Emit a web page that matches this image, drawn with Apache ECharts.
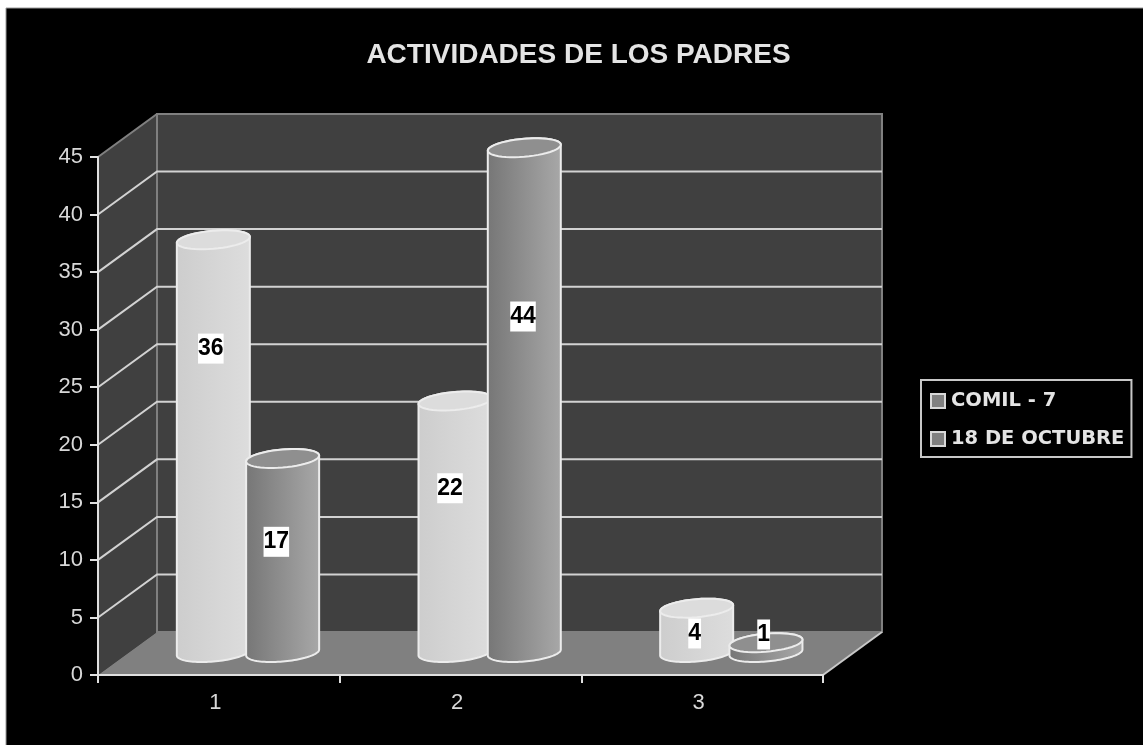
<!DOCTYPE html>
<html><head><meta charset="utf-8">
<style>html,body{margin:0;padding:0;background:#fff}#c{width:1143px;height:745px;filter:blur(0.45px)}</style>
<script src="https://cdn.jsdelivr.net/npm/echarts@6/dist/echarts.min.js"></script>
</head><body><div id="c"></div>
<script>
const chartTitle = 'ACTIVIDADES DE LOS PADRES';
const categories = ['1', '2', '3'];
const seriesNames = ['COMIL - 7', '18 DE OCTUBRE'];
const comil7 = [36, 22, 4];
const octubre18 = [17, 44, 1];
const yTicks = [0, 5, 10, 15, 20, 25, 30, 35, 40, 45];

// layout of the fake-3D box, in pixels
const DX = 59, DY = -43;          // depth vector of the box
const RX = 36.5, RY = 9, TILT = 3;
const barShift = [-35, 34.3];
const labelLift = [[109.5, 88, 26], [84, 169.5, -7.5]];
const labelShift = [[-37.5, -40, -37], [28, 33, 32]];

function ellipsePts(cx, cy, from, to) {
  const pts = [];
  for (let i = 0; i <= 48; i++) {
    const t = from + (to - from) * i / 48;
    pts.push([cx + RX * Math.cos(t), cy + RY * Math.sin(t) - TILT * Math.cos(t)]);
  }
  return pts;
}

function renderBox(params, api) {
  const p0 = api.coord([0, 0]);
  const band = api.size([1, 0])[0];
  const x0 = p0[0] - band / 2, x1 = x0 + band * categories.length, y0 = p0[1];
  const yTop = api.coord([0, 45])[1];
  const wall = '#404040', edge = '#808080', line = { stroke: '#d2d2d2', lineWidth: 2 };
  const children = [
    { type: 'polygon', shape: { points: [[x0, y0], [x0 + DX, y0 + DY], [x0 + DX, yTop + DY], [x0, yTop]] }, style: { fill: wall } },
    { type: 'rect', shape: { x: x0 + DX, y: yTop + DY, width: x1 - x0, height: y0 - yTop }, style: { fill: wall, stroke: edge, lineWidth: 2 } },
    { type: 'polygon', shape: { points: [[x0, y0], [x0 + DX, y0 + DY], [x1 + DX, y0 + DY], [x1, y0]] }, style: { fill: '#808080' } },
    { type: 'polyline', shape: { points: [[x1, y0], [x1 + DX, y0 + DY]] }, style: { fill: 'none', stroke: '#c8c8c8', lineWidth: 2 } }
  ];
  yTicks.forEach(v => {
    if (v === 0) return;
    const y = api.coord([0, v])[1];
    const isTop = v === 45;
    const st = isTop ? { stroke: edge, lineWidth: 2, fill: 'none' } : Object.assign({ fill: 'none' }, line);
    children.push({ type: 'polyline', shape: { points: [[x0, y], [x0 + DX, y + DY], [x1 + DX, y + DY]] }, style: st });
  });
  return { type: 'group', children };
}

function renderBar(si, light) {
  return function (params, api) {
    const ci = api.value(0), v = api.value(1);
    const front = api.coord([ci, 0]);
    const cx = front[0] + DX / 2 + barShift[si];
    const baseY = front[1] + DY / 2 - 1;
    const topY = api.coord([ci, v])[1] + DY / 2 + 0.7;
    const body = ellipsePts(cx, baseY, 0, Math.PI).concat(ellipsePts(cx, topY, Math.PI, 2 * Math.PI));
    const grad = light
      ? [{ offset: 0, color: '#cdcdcd' }, { offset: 1, color: '#dddddd' }]
      : [{ offset: 0, color: '#767676' }, { offset: 1, color: '#a8a8a8' }];
    const stroke = '#ececec';
    const children = [
      { type: 'polygon', shape: { points: body },
        style: { fill: new echarts.graphic.LinearGradient(0, 0, 1, 0, grad), stroke, lineWidth: 2 } },
      { type: 'polygon', shape: { points: ellipsePts(cx, topY, 0, 2 * Math.PI) },
        style: { fill: light ? '#dcdcdc' : '#8f8f8f', stroke, lineWidth: 2 } }
    ];
    return { type: 'group', children };
  };
}

function renderLabel(si) {
  return function (params, api) {
    const ci = api.value(0), v = api.value(1);
    const front = api.coord([ci, 0]);
    const cx = front[0] + DX / 2 + labelShift[si][ci];
    const topY = api.coord([ci, v])[1] + DY / 2;
    return {
      type: 'text', z2: 100,
      style: {
        text: String(v), x: cx, y: topY + labelLift[si][ci],
        align: 'center', verticalAlign: 'middle',
        font: 'bold 23px "Liberation Sans", Arial, sans-serif', fill: '#000',
        backgroundColor: '#fff', padding: [4, 0, 3, 0]
      }
    };
  };
}

function pairs(arr) { return arr.map((v, i) => [i, v]); }

const option = {
  animation: false,
  backgroundColor: '#fff',
  graphic: [{
    type: 'rect', z: -10, silent: true,
    shape: { x: 6, y: 8, width: 1200, height: 800 },
    style: { fill: '#000', stroke: '#9a9a9a', lineWidth: 1 }
  }],
  title: {
    text: chartTitle, left: 573.5, top: 36, textAlign: 'center',
    textStyle: { color: '#e4e4e4', fontFamily: '"Liberation Sans"', fontWeight: 'bold', fontSize: 28 }
  },
  legend: {
    orient: 'vertical', left: 921, top: 380,
    padding: [11, 7, 8, 9], itemGap: 18, itemWidth: 14, itemHeight: 14, icon: 'rect',
    borderColor: '#c8c8c8', borderWidth: 2, backgroundColor: '#000',
    data: seriesNames,
    textStyle: { color: '#e4e4e4', fontFamily: '"DejaVu Sans"', fontWeight: 'bold', fontSize: 19.5, padding: [0, 0, 0, 1] },
    itemStyle: { color: '#808080', borderColor: '#d8d8d8', borderWidth: 2 }
  },
  grid: { left: 98, right: 320, top: 157, bottom: 70 },
  xAxis: {
    type: 'category', data: categories, boundaryGap: true,
    axisLine: { lineStyle: { color: '#e0e0e0', width: 2 } },
    axisTick: { show: true, length: 8, alignWithLabel: false, lineStyle: { color: '#e0e0e0', width: 2 } },
    axisLabel: { color: '#d8d8d8', fontSize: 22, fontFamily: '"Liberation Sans"', margin: 17, padding: [0, 7, 0, 0] },
    splitLine: { show: false }, z: 50
  },
  yAxis: {
    type: 'value', min: 0, max: 45, interval: 5,
    axisLine: { show: true, lineStyle: { color: '#e0e0e0', width: 2 } },
    axisTick: { show: true, length: 8, lineStyle: { color: '#e0e0e0', width: 2 } },
    axisLabel: { color: '#d8d8d8', fontSize: 22, fontFamily: '"Liberation Sans"', margin: 15 },
    splitLine: { show: false }, z: 50
  },
  series: [
    { type: 'custom', name: 'box', coordinateSystem: 'cartesian2d', z: 1, silent: true, clip: false,
      renderItem: renderBox, data: [[0, 0]], encode: { x: 0, y: 1 } },
    { type: 'custom', name: seriesNames[0], z: 2, clip: false, renderItem: renderBar(0, true),
      data: pairs(comil7), encode: { x: 0, y: 1 }, itemStyle: { color: '#808080' } },
    { type: 'custom', name: seriesNames[1], z: 3, clip: false, renderItem: renderBar(1, false),
      data: pairs(octubre18), encode: { x: 0, y: 1 }, itemStyle: { color: '#808080' } },
    { type: 'custom', name: 'lab1', z: 4, clip: false, renderItem: renderLabel(0),
      data: pairs(comil7), encode: { x: 0, y: 1 } },
    { type: 'custom', name: 'lab2', z: 4, clip: false, renderItem: renderLabel(1),
      data: pairs(octubre18), encode: { x: 0, y: 1 } }
  ]
};
echarts.init(document.getElementById('c')).setOption(option);
</script></body></html>
